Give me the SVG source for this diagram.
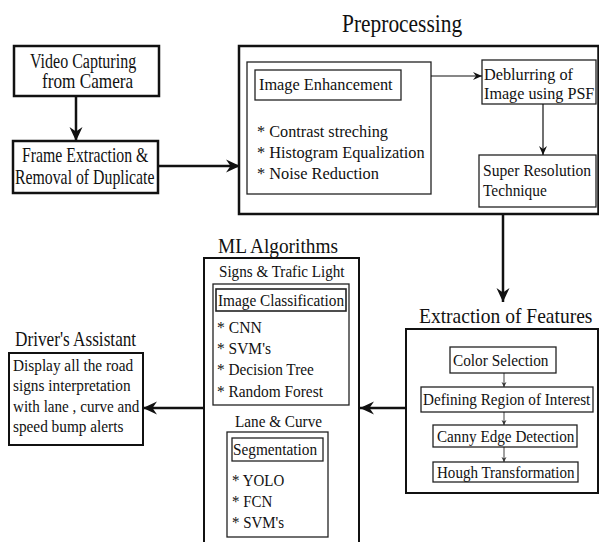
<svg xmlns="http://www.w3.org/2000/svg" width="599" height="542" viewBox="0 0 599 542">
<style>
text{font-family:"Liberation Serif","Times New Roman",serif;fill:#111;font-size:17px;}
.h{font-size:21px;}
.big{font-size:25px;}
.b{font-size:20px;}
.thick{fill:#fff;stroke:#111;stroke-width:2.5;}
.med{fill:#fff;stroke:#111;stroke-width:2;}
.thin{fill:none;stroke:#222;stroke-width:1.3;}
.c{fill:none;stroke:#111;}
</style>
<defs>
<marker id="ah" markerWidth="16" markerHeight="16" refX="14" refY="8" orient="auto" markerUnits="userSpaceOnUse"><path d="M0,1.5 L14,8 L0,14.5 L4.5,8 z" fill="#111"/></marker>
<marker id="as" markerWidth="10" markerHeight="10" refX="9" refY="5" orient="auto" markerUnits="userSpaceOnUse"><path d="M0,1 L9,5 L0,9 L3,5 z" fill="#111"/></marker>
<marker id="ax" markerWidth="6" markerHeight="6" refX="5" refY="3" orient="auto" markerUnits="userSpaceOnUse"><path d="M0,0.5 L5,3 L0,5.5 L1.5,3 z" fill="#333"/></marker>
</defs>
<rect width="599" height="542" fill="#fff"/>

<g id="video-capturing">
<rect class="thick" x="14" y="46" width="145" height="50"/>
<text class="b" transform="translate(30,68) scale(0.8,1)">Video Capturing</text>
<text class="b" transform="translate(42,88) scale(0.86,1)">from Camera</text>
</g>

<g id="frame-extraction">
<rect class="thick" x="13" y="141" width="145" height="52"/>
<text class="b" transform="translate(22,162) scale(0.79,1)">Frame Extraction &amp;</text>
<text class="b" transform="translate(15,184) scale(0.79,1)">Removal of Duplicate</text>
</g>

<g id="preprocessing">
<text class="big" transform="translate(342,32) scale(0.857,1)">Preprocessing</text>
<rect class="thick" x="239" y="46" width="359.5" height="168"/>
</g>

<g id="image-enhancement">
<rect class="thin" x="247" y="62" width="184" height="132"/>
<rect class="thin" x="255" y="70" width="146" height="30"/>
<text transform="translate(259,90) scale(0.96,1)">Image Enhancement</text>
<text transform="translate(257,137) scale(0.957,1)">* Contrast streching</text>
<text transform="translate(257,158) scale(0.96,1)">* Histogram Equalization</text>
<text transform="translate(257,179) scale(0.964,1)">* Noise Reduction</text>
</g>

<g id="deblurring">
<rect class="thin" x="482" y="60" width="114" height="44"/>
<text transform="translate(484,80) scale(0.957,1)">Deblurring of</text>
<text transform="translate(484,99) scale(0.95,1)">Image using PSF</text>
</g>

<g id="super-resolution">
<rect class="thin" x="479" y="155" width="117" height="52"/>
<text transform="translate(483,176) scale(0.92,1)">Super Resolution</text>
<text transform="translate(483,196) scale(0.905,1)">Technique</text>
</g>

<g id="extraction-of-features">
<text class="h" transform="translate(419,323) scale(0.93,1)">Extraction of Features</text>
<rect class="med" x="406" y="329" width="192" height="164"/>
</g>

<g id="color-selection">
<rect class="thin" x="450" y="347" width="106" height="26"/>
<text transform="translate(453,366) scale(0.9,1)">Color Selection</text>
</g>
<g id="defining-region">
<rect class="thin" x="421" y="387" width="172" height="25"/>
<text transform="translate(423,405) scale(0.893,1)">Defining Region of Interest</text>
</g>
<g id="canny-edge">
<rect class="thin" x="433" y="425" width="144" height="22"/>
<text transform="translate(437,442) scale(0.893,1)">Canny Edge Detection</text>
</g>
<g id="hough">
<rect class="thin" x="433" y="462" width="145" height="20"/>
<text transform="translate(437,478) scale(0.885,1)">Hough Transformation</text>
</g>

<g id="ml-algorithms">
<text class="h" transform="translate(218,253) scale(0.92,1)">ML Algorithms</text>
<rect class="med" x="204" y="258" width="155" height="290"/>
<text transform="translate(219,277) scale(0.89,1)">Signs &amp; Trafic Light</text>
<text transform="translate(235,427) scale(0.895,1)">Lane &amp; Curve</text>
</g>

<g id="image-classification">
<rect class="thin" x="213" y="284" width="136" height="121"/>
<rect class="thin" x="216" y="289" width="130" height="22" style="stroke-width:1.6"/>
<text transform="translate(218,306) scale(0.9,1)">Image Classification</text>
<text transform="translate(217,333) scale(0.92,1)">* CNN</text>
<text transform="translate(217,354) scale(0.91,1)">* SVM's</text>
<text transform="translate(217,375) scale(0.9,1)">* Decision Tree</text>
<text transform="translate(217,397) scale(0.905,1)">* Random Forest</text>
</g>

<g id="segmentation">
<rect class="thin" x="227" y="432" width="101" height="105"/>
<rect class="thin" x="232" y="438" width="91" height="23"/>
<text transform="translate(233,455) scale(0.9,1)">Segmentation</text>
<text transform="translate(232,486) scale(0.88,1)">* YOLO</text>
<text transform="translate(232,507) scale(0.88,1)">* FCN</text>
<text transform="translate(232,528) scale(0.88,1)">* SVM's</text>
</g>

<g id="drivers-assistant">
<text class="h" transform="translate(15,346) scale(0.82,1)">Driver's Assistant</text>
<rect class="med" x="9" y="353" width="134" height="92"/>
<text transform="translate(13,371) scale(0.9,1)">Display all the road</text>
<text transform="translate(13,391) scale(0.9,1)">signs interpretation</text>
<text transform="translate(13,412) scale(0.89,1)">with lane , curve and</text>
<text transform="translate(13,432) scale(0.9,1)">speed bump alerts</text>
</g>

<g id="connectors">
<line class="c" stroke-width="2.5" x1="76" y1="96" x2="76" y2="141" marker-end="url(#ah)"/>
<line class="c" stroke-width="2.5" x1="158" y1="166" x2="240" y2="166" marker-end="url(#ah)"/>
<line class="c" stroke-width="1.2" x1="431" y1="76" x2="482" y2="76" marker-end="url(#as)"/>
<line class="c" stroke-width="1.2" x1="543" y1="104" x2="543" y2="155" marker-end="url(#as)"/>
<line class="c" stroke-width="2.5" x1="503" y1="214" x2="503" y2="302" marker-end="url(#ah)"/>
<line class="c" stroke-width="0.8" x1="504" y1="373" x2="504" y2="387" marker-end="url(#ax)"/>
<line class="c" stroke-width="0.8" x1="504" y1="412" x2="504" y2="425" marker-end="url(#ax)"/>
<line class="c" stroke-width="0.8" x1="504" y1="447" x2="504" y2="462" marker-end="url(#ax)"/>
<line class="c" stroke-width="2.5" x1="406" y1="408" x2="360" y2="408" marker-end="url(#ah)"/>
<line class="c" stroke-width="2.5" x1="204" y1="408" x2="143" y2="408" marker-end="url(#ah)"/>
</g>
</svg>
